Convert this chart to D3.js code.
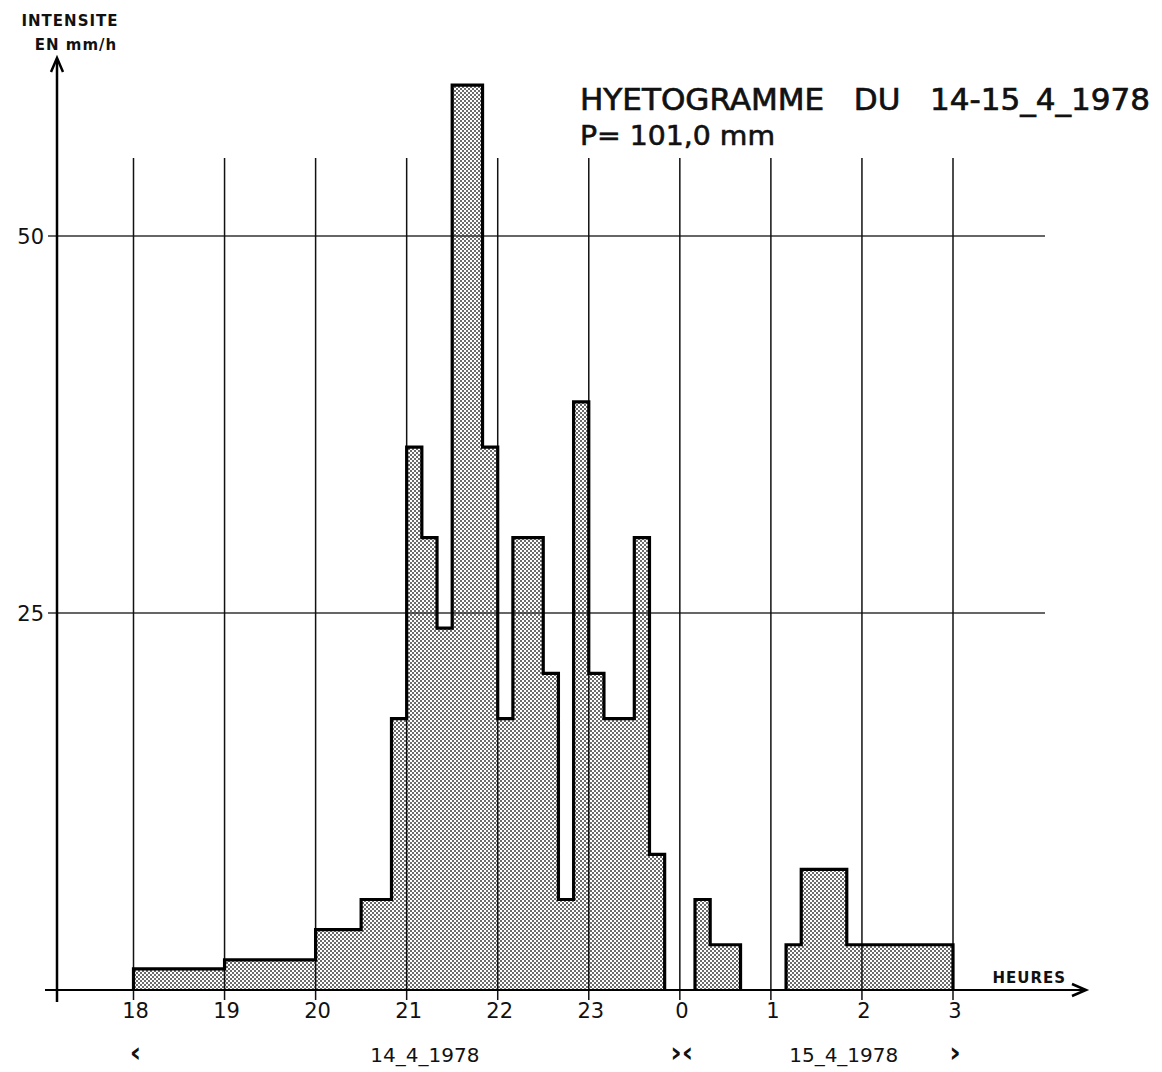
<!DOCTYPE html>
<html lang="fr">
<head>
<meta charset="UTF-8">
<title>Hyetogramme</title>
<script src="https://d3js.org/d3.v7.min.js"></script>
<style>
  body { margin: 0; background: #fff; }
  text { font-family: "DejaVu Sans", sans-serif; fill: #111; }
</style>
</head>
<body>
<div class="canvas"></div>
<script>
  // pas de temps de 10 min, debut de chaque palier (heure locale)
  const stepStart = ['18:00', '19:00', '20:00', '20:30', '20:50', '21:00', '21:10', '21:20', '21:30',
    '21:50', '22:00', '22:10', '22:30', '22:40', '22:50', '23:00', '23:10', '23:30', '23:40',
    '23:50', '0:10', '0:20', '0:40', '1:10', '1:20', '1:50']
  const stepEnd = '3:00'
  // intensite en mm/h sur chaque palier
  const intensity = [1.4, 2, 4, 6, 18, 36, 30, 24, 60,
    36, 18, 30, 21, 6, 39, 21, 18, 30, 9,
    0, 6, 3, 0, 3, 8, 3]

  const hourTicks = [18, 19, 20, 21, 22, 23, 24, 25, 26, 27]
  const hourLabels = ['18', '19', '20', '21', '22', '23', '0', '1', '2', '3']
  const yTicks = [25, 50]
  const dateLabels = ['14_4_1978', '15_4_1978']
  const datePos = [21.2, 25.8]
  const dateMarks = ['‹', '›‹', '›']
  const dateMarkPos = [18, 24, 27]

  // "HH:MM" -> heures continues (apres minuit on ajoute 24)
  const toHour = s => {
    const [h, m] = s.split(':').map(Number)
    return (h < 18 ? h + 24 : h) + m / 60
  }

  const svg = d3.select('.canvas')
    .append('svg')
    .attr('width', 1162)
    .attr('height', 1072)

  const defs = svg.append('defs')
  const pat = defs.append('pattern')
    .attr('id', 'dots')
    .attr('width', 4)
    .attr('height', 4)
    .attr('patternUnits', 'userSpaceOnUse')
  pat.append('rect').attr('width', 4).attr('height', 4).attr('fill', '#fff')
  pat.append('circle').attr('cx', 1).attr('cy', 1).attr('r', 1).attr('fill', '#3a3a3a')
  pat.append('circle').attr('cx', 3).attr('cy', 3).attr('r', 1).attr('fill', '#3a3a3a')

  const x = d3.scaleLinear().domain([18, 27]).range([133.5, 953])
  const y = d3.scaleLinear().domain([0, 50]).range([990, 236])

  // paliers continus non nuls -> un contour chacun
  const ends = stepStart.slice(1).concat(stepEnd).map(toHour)
  const runs = []
  let cur = null
  stepStart.forEach((s, i) => {
    if (intensity[i] > 0) {
      if (!cur) { cur = [[toHour(s), 0]]; runs.push(cur) }
      cur.push([toHour(s), intensity[i]])
      if (i === stepStart.length - 1 || intensity[i + 1] === 0) {
        cur.push([ends[i], 0])
        cur = null
      }
    }
  })

  const area = d3.area()
    .x(d => x(d[0]))
    .y0(y(0))
    .y1(d => y(d[1]))
    .curve(d3.curveStepAfter)

  const line = d3.line()
    .x(d => x(d[0]))
    .y(d => y(d[1]))
    .curve(d3.curveStepAfter)

  svg.selectAll('.fill')
    .data(runs)
    .enter()
    .append('path')
    .attr('d', area)
    .attr('fill', 'url(#dots)')

  // quadrillage
  svg.selectAll('.hgrid')
    .data(yTicks)
    .enter()
    .append('line')
    .attr('x1', 48)
    .attr('x2', 1045)
    .attr('y1', d => y(d))
    .attr('y2', d => y(d))
    .attr('stroke', '#333')
    .attr('stroke-width', 1.4)

  svg.selectAll('.vgrid')
    .data(hourTicks)
    .enter()
    .append('line')
    .attr('x1', d => x(d))
    .attr('x2', d => x(d))
    .attr('y1', 158)
    .attr('y2', y(0) + 10)
    .attr('stroke', '#111')
    .attr('stroke-width', 1.5)

  // contour epais
  svg.selectAll('.outline')
    .data(runs)
    .enter()
    .append('path')
    .attr('d', line)
    .attr('fill', 'none')
    .attr('stroke', '#000')
    .attr('stroke-width', 3.2)
    .attr('stroke-linejoin', 'miter')

  // axes
  svg.append('line')
    .attr('x1', 57).attr('x2', 57)
    .attr('y1', y(0) + 12).attr('y2', 60)
    .attr('stroke', '#000').attr('stroke-width', 2.5)
  svg.append('path')
    .attr('d', 'M51,72 L57,58 L63,72')
    .attr('fill', 'none').attr('stroke', '#000').attr('stroke-width', 2.5)

  svg.append('line')
    .attr('x1', 45).attr('x2', 1084)
    .attr('y1', y(0)).attr('y2', y(0))
    .attr('stroke', '#000').attr('stroke-width', 2.2)
  svg.append('path')
    .attr('d', `M1072,${y(0) - 6} L1086,${y(0)} L1072,${y(0) + 6}`)
    .attr('fill', 'none').attr('stroke', '#000').attr('stroke-width', 2.5)

  // textes des axes
  svg.selectAll('.xlab')
    .data(hourTicks)
    .enter()
    .append('text')
    .attr('x', d => x(d) + 2)
    .attr('y', 1018)
    .attr('text-anchor', 'middle')
    .attr('font-size', 21)
    .text((d, i) => hourLabels[i])

  svg.selectAll('.ylab')
    .data(yTicks)
    .enter()
    .append('text')
    .attr('x', 44)
    .attr('y', d => y(d) + 8)
    .attr('text-anchor', 'end')
    .attr('font-size', 21)
    .text(d => d)

  svg.append('text')
    .attr('x', 1066).attr('y', 983)
    .attr('text-anchor', 'end')
    .attr('font-size', 15).attr('font-weight', 'bold')
    .attr('letter-spacing', 1)
    .text('HEURES')

  svg.append('text')
    .attr('x', 70).attr('y', 26)
    .attr('text-anchor', 'middle')
    .attr('font-size', 15).attr('font-weight', 'bold')
    .attr('letter-spacing', 1)
    .text('INTENSITE')
  svg.append('text')
    .attr('x', 76).attr('y', 50)
    .attr('text-anchor', 'middle')
    .attr('font-size', 15).attr('font-weight', 'bold')
    .attr('letter-spacing', 1)
    .text('EN mm/h')

  // dates sous l'axe
  svg.selectAll('.date')
    .data(dateLabels)
    .enter()
    .append('text')
    .attr('x', (d, i) => x(datePos[i]))
    .attr('y', 1062)
    .attr('text-anchor', 'middle')
    .attr('font-size', 20)
    .text(d => d)

  svg.selectAll('.mark')
    .data(dateMarks)
    .enter()
    .append('text')
    .attr('x', (d, i) => x(dateMarkPos[i]) + 2)
    .attr('y', 1062)
    .attr('text-anchor', 'middle')
    .attr('font-size', 28).attr('font-weight', 'bold')
    .text(d => d)

  // titre
  svg.append('text')
    .attr('x', 580).attr('y', 110)
    .attr('font-size', 30)
    .attr('stroke', '#111').attr('stroke-width', 0.7)
    .attr('textLength', 570)
    .attr('lengthAdjust', 'spacingAndGlyphs')
    .attr('xml:space', 'preserve')
    .style('white-space', 'pre')
    .text('HYETOGRAMME   DU   14-15_4_1978')
  svg.append('text')
    .attr('x', 580).attr('y', 145)
    .attr('font-size', 26)
    .attr('stroke', '#111').attr('stroke-width', 0.6)
    .attr('textLength', 195)
    .attr('lengthAdjust', 'spacingAndGlyphs')
    .text('P= 101,0 mm')
</script>
</body>
</html>
